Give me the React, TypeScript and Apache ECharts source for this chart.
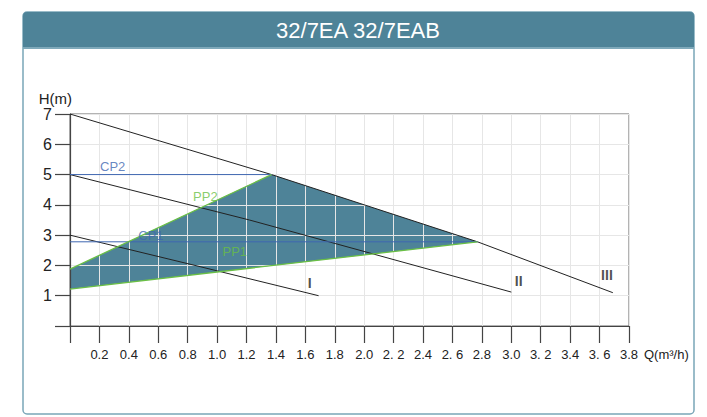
import React, { useEffect, useRef } from "react";
import * as echarts from "echarts";

// ---- data ----
const titleText = "32/7EA 32/7EAB";
const qTickLabels = ["", "0.2", "0.4", "0.6", "0.8", "1.0", "1.2", "1.4", "1.6", "1.8", "2.0", "2. 2", "2.4", "2. 6", "2.8", "3.0", "3. 2", "3.4", "3. 6", "3.8"];
const hTickLabels = ["", "1", "2", "3", "4", "5", "6", "7"];

const curveIQ = [0, 0.85, 1.69];
const curveIH = [3.0, 2.0, 1.0];
const curveIIQ = [0, 1.22, 2.06, 3.0];
const curveIIH = [5.0, 3.5, 2.38, 1.12];
const curveIIIQ = [0, 1.37, 2.77, 3.69];
const curveIIIH = [7.0, 5.0, 2.78, 1.1];

const cp2Q = [0, 1.37];
const cp2H = [5.0, 5.0];
const cp1Q = [0, 2.77];
const cp1H = [2.78, 2.78];
const pp2Q = [0, 1.37];
const pp2H = [1.88, 5.0];
const pp1Q = [0, 2.77];
const pp1H = [1.22, 2.78];

const fillQ = [0, 1.37, 2.77, 0];
const fillH = [1.88, 5.0, 2.78, 1.22];

const annotNames = ["CP2", "PP2", "CP1", "PP1", "I", "II", "III"];
const annotQ = [0.29, 0.92, 0.55, 1.12, 1.63, 3.05, 3.65];
const annotH = [5.27, 4.28, 3.0, 2.45, 1.42, 1.49, 1.68];

const BLUE = "#3f67b1";
const GREEN = "#6abf45";
const TEAL = "#4e8398";
const BLACK = "#222222";

const zip = (a: number[], b: number[]) => a.map((v, i) => [v, b[i]]);

export default function App() {
  const ref = useRef<HTMLDivElement>(null);

  useEffect(() => {
    document.body.style.margin = "0";
    const chart = echarts.init(ref.current!, null, { renderer: "svg" });

    const lineSeries = (data: number[][], color: string, width = 1) => ({
      type: "line",
      data,
      symbol: "none",
      silent: true,
      z: 5,
      lineStyle: { color, width },
    });

    const annotColor = (n: string) =>
      n.startsWith("CP") ? BLUE : n.startsWith("PP") ? GREEN : BLACK;

    chart.setOption({
      animation: false,
      graphic: [
        {
          type: "rect",
          z: -10,
          shape: { x: 23, y: 12, width: 671, height: 402, r: 4 },
          style: { fill: "#ffffff", stroke: "#7aa6b8", lineWidth: 1.5 },
          silent: true,
        },
        {
          type: "rect",
          z: -9,
          shape: { x: 23, y: 12, width: 671, height: 35, r: [4, 4, 0, 0] },
          style: { fill: TEAL },
          silent: true,
        },
        {
          type: "rect",
          z: -9,
          shape: { x: 23, y: 47, width: 671, height: 2 },
          style: { fill: "#7fa9ba" },
          silent: true,
        },
        {
          type: "text",
          z: 10,
          x: 358,
          y: 30,
          style: {
            text: titleText,
            fill: "#ffffff",
            font: "22px 'Liberation Sans', Arial, sans-serif",
            textAlign: "center",
            textVerticalAlign: "middle",
          },
          silent: true,
        },
      ],
      grid: {
        left: 70,
        top: 114,
        right: 78,
        bottom: 91,
        show: true,
        borderColor: "#666666",
        borderWidth: 1,
        backgroundColor: "transparent",
      },
      xAxis: {
        type: "value",
        min: 0,
        max: 3.8,
        interval: 0.2,
        z: 3,
        name: "Q(m³/h)",
        nameLocation: "end",
        nameGap: 14,
        nameTextStyle: {
          color: BLACK,
          fontSize: 13,
          fontFamily: "'Liberation Sans Narrow', 'Liberation Sans', Arial, sans-serif",
          align: "left",
          verticalAlign: "top",
          padding: [22, 0, 0, 0],
        },
        axisLine: { show: true, lineStyle: { color: "#444444", width: 1.2 } },
        axisTick: { show: true, inside: false, length: 17, lineStyle: { color: "#444444", width: 1.2 } },
        axisLabel: {
          show: true,
          margin: 22,
          color: BLACK,
          fontSize: 13,
          fontFamily: "'Liberation Sans Narrow', 'Liberation Sans', Arial, sans-serif",
          formatter: (v: number) => qTickLabels[Math.round(v / 0.2)] ?? "",
        },
        splitLine: { show: true, lineStyle: { color: "#e6e6e6", width: 1 } },
      },
      yAxis: {
        type: "value",
        min: 0,
        max: 7,
        interval: 1,
        z: 3,
        name: "H(m)",
        nameLocation: "end",
        nameGap: 8,
        nameTextStyle: {
          color: BLACK,
          fontSize: 15,
          fontFamily: "'Liberation Sans', Arial, sans-serif",
          align: "right",
          padding: [0, -2, 0, 0],
        },
        axisLine: { show: true, lineStyle: { color: "#444444", width: 1.2 } },
        axisTick: { show: true, inside: false, length: 15, lineStyle: { color: "#444444", width: 1.2 } },
        axisLabel: {
          show: true,
          margin: 18,
          color: BLACK,
          fontSize: 16,
          fontFamily: "'Liberation Sans', Arial, sans-serif",
          formatter: (v: number) => hTickLabels[Math.round(v)] ?? "",
        },
        splitLine: { show: true, lineStyle: { color: "#e6e6e6", width: 1 } },
      },
      series: [
        {
          type: "custom",
          z: 1,
          silent: true,
          data: zip(fillQ, fillH),
          renderItem: (params: any, api: any) => {
            if (params.dataIndex !== 0) return null;
            const pts = fillQ.map((q, i) => api.coord([q, fillH[i]]));
            return {
              type: "polygon",
              shape: { points: pts },
              style: { fill: TEAL, stroke: "none" },
            };
          },
        },
        lineSeries(zip(curveIQ, curveIH), BLACK),
        lineSeries(zip(curveIIQ, curveIIH), BLACK),
        lineSeries(zip(curveIIIQ, curveIIIH), BLACK),
        lineSeries(zip(cp2Q, cp2H), BLUE),
        lineSeries(zip(cp1Q, cp1H), BLUE),
        lineSeries(zip(pp2Q, pp2H), GREEN, 1.3),
        lineSeries(zip(pp1Q, pp1H), GREEN, 1.3),
        {
          type: "scatter",
          symbolSize: 0,
          silent: true,
          z: 6,
          data: annotNames.map((n, i) => ({
            value: [annotQ[i], annotH[i]],
            name: n,
            label: {
              show: true,
              position: "inside",
              formatter: n,
              color: annotColor(n),
              fontSize: /^I+$/.test(n) ? 14 : 13,
              fontWeight: /^I+$/.test(n) ? "bold" : "normal",
              fontFamily: "'Liberation Sans Narrow', 'Liberation Sans', Arial, sans-serif",
            },
          })),
        },
      ],
    });

    return () => chart.dispose();
  }, []);

  return <div ref={ref} style={{ width: 707, height: 417 }} />;
}
